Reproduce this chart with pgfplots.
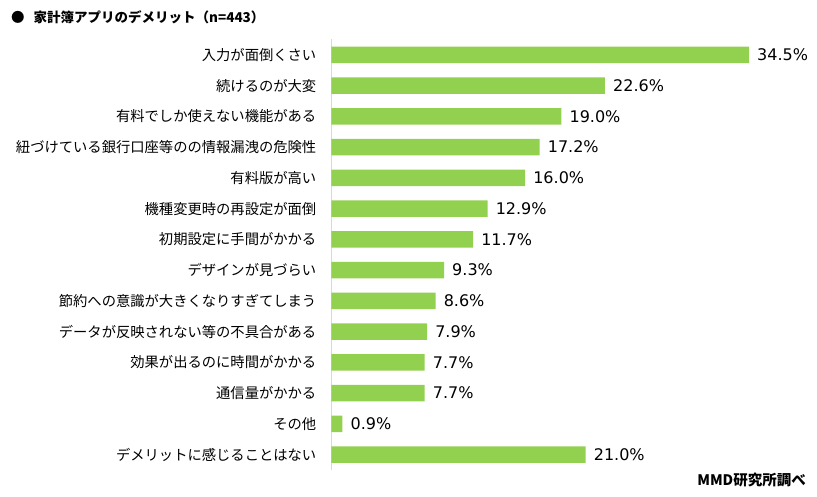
\documentclass[border=0pt]{standalone}
\usepackage{fontspec}
\usepackage{pgfplots}
\pgfplotsset{compat=1.18}
\setmainfont{Noto Sans CJK JP}
\newfontfamily\valfont{DejaVu Sans}
\definecolor{barg}{HTML}{92D050}
\definecolor{axg}{HTML}{D9D9D9}
\begin{document}
\begin{tikzpicture}
\path[use as bounding box] (0pt,0pt) rectangle (817pt,497pt);
\begin{axis}[
  at={(331.5pt,27pt)}, anchor=south west,
  scale only axis, width=417.5pt, height=430.5pt,
  xbar, bar width=16.5pt, bar shift=0pt,
  xmin=0, xmax=34.5,
  ymin=-0.5, ymax=13.5, y dir=reverse,
  axis lines=left, axis line style={-},
  x axis line style={draw=none},
  y axis line style={axg, line width=1.2pt},
  xtick=\empty,
  ytick={0,...,13},
  major tick length=0pt,
  yticklabels={入力が面倒くさい,続けるのが大変,有料でしか使えない機能がある,紐づけている銀行口座等のの情報漏洩の危険性,有料版が高い,機種変更時の再設定が面倒,初期設定に手間がかかる,デザインが見づらい,節約への意識が大きくなりすぎてしまう,データが反映されない等の不具合がある,効果が出るのに時間がかかる,通信量がかかる,その他,デメリットに感じることはない},
  yticklabel style={font=\fontsize{14.3}{14.3}\selectfont, anchor=east, inner sep=0pt, xshift=-15pt},
  clip=false,
  point meta=x,
  /pgf/number format/assume math mode=true,
  nodes near coords={\pgfmathprintnumber[fixed,fixed zerofill,precision=1,assume math mode=true]{\pgfplotspointmeta}\%},
  nodes near coords style={font=\valfont\fontsize{16}{16}\selectfont, anchor=west, inner sep=0pt, xshift=8pt},
]
\addplot[fill=barg, draw=none] coordinates {
 (34.5,0) (22.6,1) (19.0,2) (17.2,3) (16.0,4) (12.9,5) (11.7,6)
 (9.3,7) (8.6,8) (7.9,9) (7.7,10) (7.7,11) (0.9,12) (21.0,13)};
\end{axis}
\node[anchor=west, font=\bfseries\fontsize{13.5}{13.5}\selectfont, inner sep=0pt] at (11pt,480pt) {●\hspace{9pt}家計簿アプリのデメリット（n=443）};
\node[anchor=east, font=\bfseries\fontsize{14.5}{14.5}\selectfont, inner sep=0pt] at (806pt,17pt) {MMD研究所調べ};
\end{tikzpicture}
\end{document}
